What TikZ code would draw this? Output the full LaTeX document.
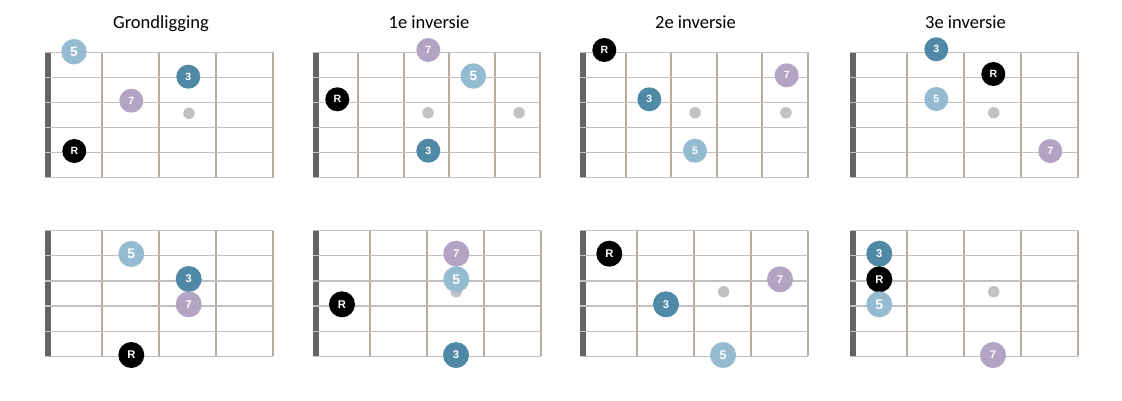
\documentclass[tikz,border=0pt]{standalone}
\usepackage{fontspec}
\setmainfont{Carlito}
\newfontfamily\notefamily{Liberation Sans}

\definecolor{nutgrey}{HTML}{646464}
\definecolor{stringgrey}{HTML}{C0C0C0}
\definecolor{fretbrown}{HTML}{B8AD9D}
\definecolor{markgrey}{HTML}{C2C2C2}
\definecolor{thirdblue}{HTML}{4F89A6}
\definecolor{fifthblue}{HTML}{95BBD0}
\definecolor{seventhlila}{HTML}{B3A4C4}

\def\notesize{24pt}
\def\notept{10.5}
\def\bigpt{13.5}

\tikzset{
  stringline/.style={stringgrey, line width=1.2pt},
  fretline/.style={fretbrown, line width=2pt},
  title/.style={anchor=base, font=\fontsize{18.5}{22}\selectfont},
  note/.style={circle, inner sep=0pt, text=white, minimum size=\notesize,
    font=\notefamily\bfseries\fontsize{\notept}{12}\selectfont},
  big/.style={font=\notefamily\bfseries\fontsize{\bigpt}{15}\selectfont},
  root/.style={note, fill=black},
  third/.style={note, fill=thirdblue},
  fifth/.style={note, fill=fifthblue},
  seventh/.style={note, fill=seventhlila},
  dotmark/.style={circle, fill=markgrey, minimum size=11.5pt, inner sep=0pt},
}

% nut x, top string y, number of frets, fret spacing
\def\fretboard(#1,#2,#3,#4){%
  \fill[nutgrey] (#1,#2) rectangle ++(6,125.5);
  \foreach \f in {1,...,#3}
    \draw[fretline] (#1+\f*#4,#2) -- ++(0,125.5);
  \foreach \s in {0,...,5}
    \draw[stringline] (#1,#2+25.1*\s) -- ++(#3*#4,0);
}

\begin{document}
\begin{tikzpicture}[x=1pt, y=-1pt]
  \useasboundingbox (0,0) rectangle (1122,400);

  % titels
  \node[title] (grond) at (161,28.5) {Grondligging};
  \node[title] (inv1) at (429,28.5) {1e inversie};
  \node[title] (inv2) at (695.5,28.5) {2e inversie};
  \node[title] (inv3) at (965.5,28.5) {3e inversie};

  % bovenste rij
  \fretboard(45,52.3,4,57)
  \fretboard(313,52.3,5,45.4)
  \fretboard(580,52.3,5,45.5)
  \fretboard(850,52.3,4,57)

  \node[dotmark] (ma) at (189,113.3) {};
  \node[fifth, big, minimum size=25.5pt] (a5) at (74,51.7) {5};
  \node[third] (a3) at (188.3,76.7) {3};
  \node[seventh] (a7) at (131.3,100.7) {7};
  \node[root] (aR) at (74.3,151) {R};

  \node[dotmark] (mb1) at (428,112.7) {};
  \node[dotmark] (mb2) at (519,112.7) {};
  \node[seventh] (b7) at (428.3,50) {7};
  \node[fifth, big, minimum size=25.5pt] (b5) at (473.3,76) {5};
  \node[root] (bR) at (337.3,99.3) {R};
  \node[third] (b3) at (428.3,150.7) {3};

  \node[dotmark] (mc1) at (695,112.7) {};
  \node[dotmark] (mc2) at (786,112.7) {};
  \node[root] (cR) at (604.3,50) {R};
  \node[seventh] (c7) at (786.7,75.3) {7};
  \node[third] (c3) at (649.3,99.3) {3};
  \node[fifth] (c5) at (695,150.7) {5};

  \node[dotmark] (md) at (993.7,112.7) {};
  \node[third] (d3) at (936.3,49.3) {3};
  \node[root] (dR) at (993.3,74) {R};
  \node[fifth] (d5) at (936.3,99) {5};
  \node[seventh] (d7) at (1050.3,151) {7};

  % onderste rij
  \begin{scope}
    \def\notesize{26pt}
    \def\notept{11.2}
    \def\bigpt{14}
    \fretboard(45,230.7,4,57)
    \fretboard(313,230.7,4,57)
    \fretboard(580,230.7,4,57)
    \fretboard(850,230.7,4,57)

    \node[fifth, big] (e5) at (131.3,254) {5};
    \node[third] (e3) at (188.7,279) {3};
    \node[seventh] (e7) at (188.7,304.3) {7};
    \node[root] (eR) at (131.3,355) {R};

    \node[dotmark] (mf) at (456.3,291.7) {};
    \node[seventh] (f7) at (456.3,253.7) {7};
    \node[fifth, big] (f5) at (456.3,279.3) {5};
    \node[root] (fR) at (342,304.3) {R};
    \node[third] (f3) at (456,355) {3};

    \node[dotmark] (mg) at (723.7,291.7) {};
    \node[root] (gR) at (609.3,253.7) {R};
    \node[seventh] (g7) at (780,279.3) {7};
    \node[third] (g3) at (666,304.3) {3};
    \node[fifth, font=\notefamily\bfseries\fontsize{12.5}{14}\selectfont] (g5) at (723,355) {5};

    \node[dotmark] (mh) at (993.7,291.7) {};
    \node[third] (h3) at (879.3,253.7) {3};
    \node[root] (hR) at (879.3,279.3) {R};
    \node[fifth, big] (h5) at (879.3,304.3) {5};
    \node[seventh] (h7) at (993,355) {7};
  \end{scope}
\end{tikzpicture}
\end{document}
